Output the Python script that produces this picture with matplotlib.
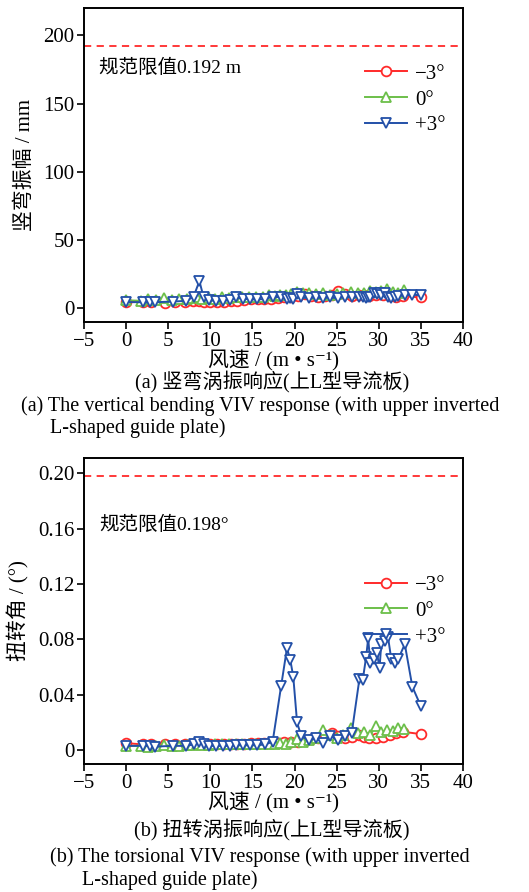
import matplotlib
matplotlib.use("Agg")
import matplotlib.pyplot as plt

plt.rcParams['font.family'] = ['Liberation Serif', 'DejaVu Serif', 'Noto Sans CJK SC']

# wind speeds (m/s) for each attack angle
v_m3 = [0, 2.0, 2.9, 4.6, 5.8, 7.0, 7.9, 8.6, 9.3, 10.0, 10.8, 11.6, 12.4, 13.2,
        14.0, 14.8, 15.6, 16.4, 17.2, 18.0, 18.8, 19.6, 20.4, 21.2, 22.0, 22.8,
        23.6, 24.4, 25.2, 26.0, 26.8, 27.6, 28.3, 28.8, 29.7, 30.5, 31.3, 32.1,
        32.9, 35.0]
v_0 = [0, 1.8, 2.6, 3.5, 4.5, 5.4, 6.3, 7.2, 7.8, 8.4, 9.0, 9.8, 10.6, 11.4,
       12.2, 13.0, 13.8, 14.6, 15.4, 16.2, 17.0, 17.7, 18.3, 19.0, 19.6, 20.3,
       21.0, 21.7, 22.5, 23.4, 24.2, 25.0, 25.8, 26.7, 27.5, 28.3, 29.0, 29.7,
       30.3, 31.0, 31.7, 32.3, 33.0]
v_p3 = [0, 2.0, 2.85, 3.45, 5.6, 7.1, 8.0, 8.7, 9.2, 9.8, 10.7, 11.5, 12.3,
        13.1, 13.9, 14.7, 15.5, 16.5, 17.4, 18.4, 19.1, 19.5, 19.85, 20.3, 20.8,
        21.7, 22.5, 23.4, 24.2, 25.2, 26.0, 26.8, 27.7, 28.1, 28.5, 28.75, 29.0,
        29.4, 29.8, 30.1, 30.3, 30.7, 31.1, 31.5, 31.9, 32.3, 33.1, 34.0, 35.0]

# (a) vertical amplitude, mm
vert_m3 = [4.5, 4.8, 4.5, 4.0, 4.8, 5.0, 5.5, 5.5, 4.5, 4.5, 5.0, 5.0, 5.5, 5.5,
           6.0, 6.5, 6.5, 6.5, 7.0, 7.5, 8.0, 8.5, 9.0, 10.5, 9.0, 8.5, 9.0,
           10.0, 13.0, 10.5, 9.0, 9.5, 10.0, 9.0, 9.5, 10.0, 9.0, 8.5, 9.0, 8.0]
vert_0 = [6.0, 5.5, 6.5, 6.0, 7.5, 6.0, 7.0, 6.5, 7.5, 8.0, 7.0, 7.5, 7.0, 8.0,
          7.5, 8.0, 8.5, 8.0, 8.5, 8.5, 9.5, 9.0, 10.0, 9.5, 10.5, 12.0, 11.5,
          11.0, 10.5, 11.0, 10.0, 10.5, 11.5, 12.0, 11.0, 11.5, 12.5, 12.0, 13.0,
          14.5, 12.0, 11.5, 13.5]
vert_p3 = [4.6, 4.5, 4.3, 4.5, 5.0, 5.5, 8.5, 20.0, 8.0, 6.0, 5.5, 5.5, 6.0, 8.0,
           7.0, 6.5, 6.5, 6.8, 8.5, 8.0, 7.0, 7.5, 7.0, 10.5, 8.0, 7.5, 8.0, 7.5,
           8.0, 7.5, 8.5, 8.0, 8.5, 8.0, 7.5, 8.0, 8.5, 11.0, 10.5, 11.5, 10.0,
           11.0, 8.5, 7.5, 8.5, 9.0, 9.5, 10.0, 9.5]

# (b) torsional angle, deg
tors_m3 = [0.005, 0.004, 0.0045, 0.004, 0.004, 0.0045, 0.0045, 0.004, 0.004,
           0.004, 0.004, 0.0045, 0.0045, 0.0045, 0.0045, 0.005, 0.005, 0.005,
           0.005, 0.005, 0.0055, 0.0055, 0.006, 0.007, 0.008, 0.009, 0.011,
           0.0125, 0.010, 0.009, 0.0095, 0.0105, 0.0095, 0.0084, 0.0087, 0.0095,
           0.0108, 0.012, 0.0132, 0.0115]
tors_0 = [0.003, 0.003, 0.0025, 0.003, 0.0035, 0.003, 0.003, 0.0035, 0.0035,
          0.004, 0.0035, 0.0035, 0.004, 0.004, 0.004, 0.004, 0.004, 0.0045,
          0.0045, 0.0045, 0.004, 0.0045, 0.005, 0.004, 0.006, 0.008, 0.006,
          0.007, 0.009, 0.0147, 0.011, 0.009, 0.011, 0.016, 0.012, 0.013, 0.011,
          0.0173, 0.013, 0.0145, 0.0135, 0.016, 0.0155]
tors_p3 = [0.003, 0.003, 0.003, 0.0025, 0.003, 0.003, 0.004, 0.006, 0.004, 0.003,
           0.003, 0.003, 0.003, 0.0035, 0.0035, 0.0035, 0.0035, 0.004, 0.006,
           0.046, 0.0736, 0.065, 0.053, 0.020, 0.010, 0.007, 0.0084, 0.0053,
           0.010, 0.0072, 0.010, 0.0125, 0.051, 0.0505, 0.067, 0.0806, 0.063,
           0.066, 0.070, 0.059, 0.0765, 0.079, 0.0818, 0.0655, 0.0626, 0.0655,
           0.0765, 0.0457, 0.0318]

labels = ['\u22123°', '0°', '+3°']
colors = ['#ff2a2a', '#6cbf4a', '#2350a8']
markers = ['o', '^', 'v']

limit_vert = 192
limit_tors = 0.198

fig = plt.figure(figsize=(5.29, 8.92), dpi=100)
ax1 = fig.add_axes([0.159, 0.639, 0.716, 0.352])
ax2 = fig.add_axes([0.159, 0.1435, 0.716, 0.343])


def draw(ax, series, limit, limit_text, text_y, ylim, yticks, yticklabels,
         ylabel, leg_y):
    speeds = [v_m3, v_0, v_p3]
    for v, y, lab, c, m in zip(speeds, series, labels, colors, markers):
        ax.plot(v, y, color=c, marker=m, markersize=7, markerfacecolor='white',
                markeredgecolor=c, markeredgewidth=1.3, linewidth=1.4, label=lab)
    ax.axhline(limit, color='#ff2a2a', linestyle=(0, (4, 3)), linewidth=1.3)
    ax.text(-3.2, text_y, limit_text, fontsize=14, va='center', ha='left')
    ax.set_xlim(-5, 40)
    ax.set_ylim(*ylim)
    ax.set_xticks(range(-5, 41, 5))
    ax.set_xticklabels(['\u22125'] + [str(t) for t in range(0, 41, 5)])
    ax.set_yticks(yticks)
    ax.set_yticklabels(yticklabels)
    ax.tick_params(labelsize=15, direction='out', length=5, width=1.2, pad=2)
    for s in ax.spines.values():
        s.set_linewidth(1.4)
    ax.set_xlabel('风速 / (m • s\u207b\u00b9)', fontsize=15, labelpad=0)
    ax.set_ylabel(ylabel, fontsize=15, labelpad=6)
    ax.legend(loc='upper right', bbox_to_anchor=(0.976, leg_y), frameon=False,
              fontsize=15, handlelength=2.0, handletextpad=0.4,
              labelspacing=0.3, borderaxespad=0)


draw(ax1, [vert_m3, vert_0, vert_p3], limit_vert, '规范限值0.192 m', 176,
     (-10, 220), [0, 50, 100, 150, 200], ['0', '50', '100', '150', '200'],
     '竖弯振幅 / mm', 0.848)
draw(ax2, [tors_m3, tors_0, tors_p3], limit_tors, '规范限值0.198°', 0.163,
     (-0.0101, 0.211), [0, 0.04, 0.08, 0.12, 0.16, 0.20],
     ['0', '0.04', '0.08', '0.12', '0.16', '0.20'], '扭转角 / (°)', 0.644)

fig.text(0.514, 0.572, '(a) 竖弯涡振响应(上L型导流板)', fontsize=14.5,
         ha='center', va='center')
fig.text(0.039, 0.545, '(a) The vertical bending VIV response (with upper inverted',
         fontsize=14.5, ha='left', va='center')
fig.text(0.095, 0.520, 'L-shaped guide plate)', fontsize=14.5, ha='left', va='center')

fig.text(0.514, 0.0695, '(b) 扭转涡振响应(上L型导流板)', fontsize=14.5,
         ha='center', va='center')
fig.text(0.095, 0.039, '(b) The torsional VIV response (with upper inverted',
         fontsize=14.5, ha='left', va='center')
fig.text(0.155, 0.0135, 'L-shaped guide plate)', fontsize=14.5, ha='left', va='center')

fig.savefig('out.png', dpi=100)
